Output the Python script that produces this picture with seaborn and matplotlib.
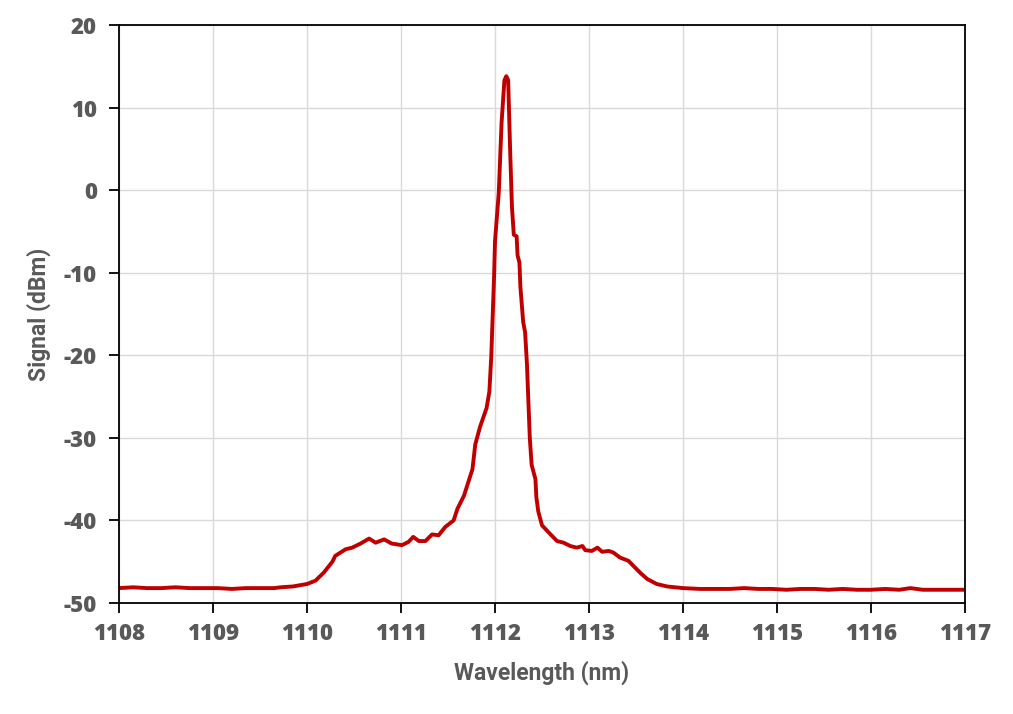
import numpy as np
import pandas as pd
import matplotlib
matplotlib.use("Agg")
import matplotlib.pyplot as plt
import seaborn as sns

# Spectrum
wavelength_nm = [
    1108.00, 1108.15, 1108.30, 1108.45, 1108.60, 1108.75, 1108.90, 1109.05,
    1109.20, 1109.35, 1109.50, 1109.65, 1109.72, 1109.85, 1110.00, 1110.09,
    1110.18, 1110.27, 1110.30, 1110.41, 1110.48, 1110.57, 1110.66, 1110.73,
    1110.82, 1110.90, 1111.01, 1111.08, 1111.13, 1111.19, 1111.26, 1111.33,
    1111.40, 1111.47, 1111.56, 1111.60, 1111.67, 1111.76, 1111.79, 1111.84,
    1111.91, 1111.94, 1111.96, 1111.99, 1112.00, 1112.04, 1112.07, 1112.10,
    1112.12, 1112.14, 1112.16, 1112.18, 1112.20, 1112.23, 1112.24, 1112.26,
    1112.27, 1112.30, 1112.32, 1112.34, 1112.37, 1112.39, 1112.43, 1112.44,
    1112.46, 1112.50, 1112.55, 1112.60, 1112.66, 1112.73, 1112.80, 1112.87,
    1112.93, 1112.96, 1113.03, 1113.09, 1113.14, 1113.21, 1113.26, 1113.33,
    1113.42, 1113.48, 1113.55, 1113.62, 1113.72, 1113.83, 1114.00, 1114.18,
    1114.35, 1114.50, 1114.65, 1114.80, 1114.95, 1115.10, 1115.25, 1115.40,
    1115.55, 1115.70, 1115.85, 1116.00, 1116.15, 1116.30, 1116.42, 1116.55,
    1116.70, 1116.85, 1117.00,
]
signal_dbm = [
    -48.2, -48.1, -48.2, -48.2, -48.1, -48.2, -48.2, -48.2,
    -48.3, -48.2, -48.2, -48.2, -48.1, -48.0, -47.7, -47.3,
    -46.3, -45.0, -44.3, -43.5, -43.3, -42.8, -42.2, -42.7,
    -42.3, -42.8, -43.0, -42.6, -42.0, -42.5, -42.5, -41.7,
    -41.8, -40.8, -40.0, -38.6, -37.0, -33.8, -30.8, -28.7,
    -26.4, -24.4, -20.2, -10.5, -6.2, -0.3, 8.2, 13.3,
    13.8, 13.3, 5.2, -2.0, -5.4, -5.6, -7.9, -8.8,
    -11.7, -16.0, -17.2, -21.1, -30.0, -33.3, -35.0, -37.2,
    -38.9, -40.6, -41.2, -41.8, -42.5, -42.7, -43.1, -43.3,
    -43.1, -43.6, -43.7, -43.3, -43.8, -43.7, -43.9, -44.5,
    -44.9, -45.6, -46.4, -47.1, -47.7, -48.0, -48.2, -48.3,
    -48.3, -48.3, -48.2, -48.3, -48.3, -48.4, -48.3, -48.3,
    -48.4, -48.3, -48.4, -48.4, -48.3, -48.4, -48.2, -48.4,
    -48.4, -48.4, -48.4,
]
x_ticks = [1108, 1109, 1110, 1111, 1112, 1113, 1114, 1115, 1116, 1117]
y_ticks = [-50, -40, -30, -20, -10, 0, 10, 20]

df = pd.DataFrame({"Wavelength (nm)": wavelength_nm, "Signal (dBm)": signal_dbm})

sns.set_style("whitegrid")
plt.rcParams["font.family"] = ["Open Sans", "DejaVu Sans"]

text_grey = "#595959"
tick_font = dict(fontsize=16, fontweight=800, family=["Open Sans", "DejaVu Sans"])
label_font = dict(fontsize=16.5, fontweight="bold", family=["Roboto", "DejaVu Sans"])

fig = plt.figure(figsize=(10.13, 7.14), dpi=100)
ax = fig.add_axes([0.1175, 0.1555, 0.8351, 0.8095])

sns.lineplot(data=df, x="Wavelength (nm)", y="Signal (dBm)", ax=ax,
             color="#C00000", linewidth=2.8, sort=False)

ax.set_xlim(1108, 1117)
ax.set_ylim(-50, 20)
ax.set_xticks(x_ticks)
ax.set_yticks(y_ticks)
ax.set_xticklabels([str(t) for t in x_ticks], **tick_font)
ax.set_yticklabels([str(t) for t in y_ticks], **tick_font)

ax.grid(True, color="#D9D9D9", linewidth=1.0)
for side in ["left", "right", "top", "bottom"]:
    ax.spines[side].set_visible(True)
    ax.spines[side].set_color("black")
    ax.spines[side].set_linewidth(1.3)

ax.tick_params(axis="both", direction="out", length=7, width=1.3,
               color="black", labelcolor=text_grey)
ax.tick_params(axis="x", bottom=True, pad=7)
ax.tick_params(axis="y", left=True, pad=9)

ax.set_xlabel("Wavelength (nm)", color=text_grey, labelpad=10, **label_font)
ax.set_ylabel("Signal (dBm)", color=text_grey, labelpad=9, **label_font)

fig.savefig("out.png", dpi=100, facecolor="white")
